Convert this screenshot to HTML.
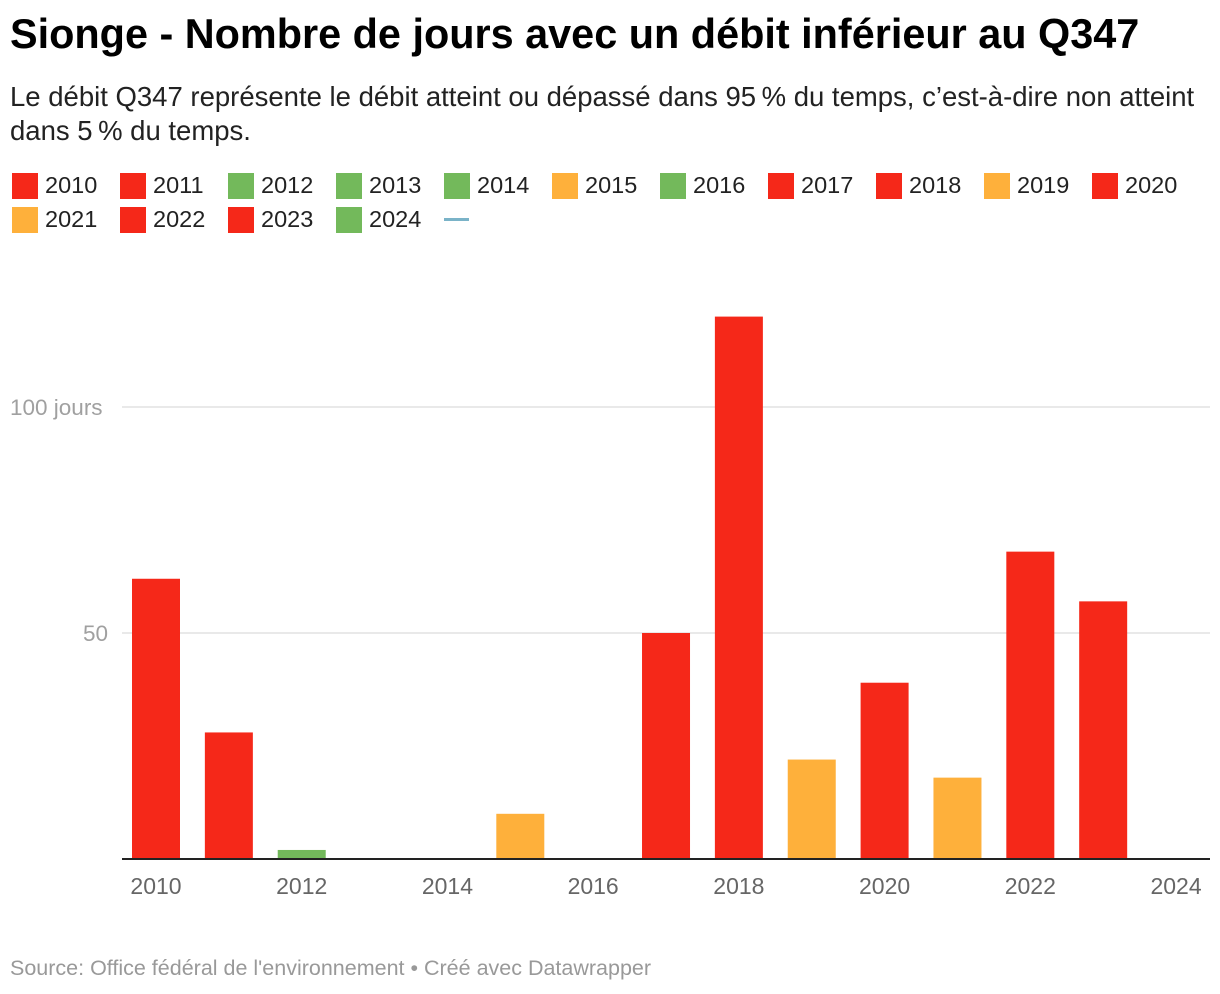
<!DOCTYPE html>
<html><head><meta charset="utf-8"><style>
body{margin:0;width:1220px;height:994px;background:#fff;font-family:"Liberation Sans",sans-serif;position:relative;overflow:hidden}
.t{position:absolute;left:10px;top:11px;font-size:41.4px;font-weight:bold;color:#000;white-space:nowrap}
.s{position:absolute;left:10px;top:80px;font-size:27.5px;line-height:34px;color:#222;width:1210px;white-space:nowrap}
.lg{position:absolute;font-size:23.5px;color:#222;display:flex;align-items:center}
.sw{width:26px;height:26px;margin-right:7px}
.src{position:absolute;left:10px;top:956px;font-size:21.5px;color:#999;white-space:nowrap}
</style></head><body>
<div class="t">Sionge - Nombre de jours avec un débit inférieur au Q347</div>
<div class="s">Le débit Q347 représente le débit atteint ou dépassé dans 95&#8239;% du temps, c’est-à-dire non atteint<br>dans 5&#8239;% du temps.</div>
<div id="legend"></div>
<svg id="c" width="1220" height="994" style="position:absolute;left:0;top:0"></svg>
<div class="src">Source: Office fédéral de l'environnement • Créé avec Datawrapper</div>
<script>
const years=[2010,2011,2012,2013,2014,2015,2016,2017,2018,2019,2020,2021,2022,2023,2024];
const days=[62,28,2,0,0,10,0,50,120,22,39,18,68,57,0];
const cats=["r","r","g","g","g","o","g","r","r","o","r","o","r","r","g"];
const yTicks=[50,100];
const xTicks=[2010,2012,2014,2016,2018,2020,2022,2024];
const col={r:"#f52819",g:"#73b95b",o:"#feb03b"};
const NS="http://www.w3.org/2000/svg";
const svg=document.getElementById('c');
const x=v=>156+(v-2010)*72.86;
const y=v=>859-v*4.52;
function mk(t,a){const e=document.createElementNS(NS,t);for(const k in a)e.setAttribute(k,a[k]);svg.appendChild(e);return e;}
yTicks.forEach(v=>{
 const g=mk('line',{x1:122,x2:1210,y1:y(v),y2:y(v),stroke:'#e2e2e2','stroke-width':1.5});
 
 
 const t=mk('text',{x:v===100?10:108,y:y(v)+8,'font-size':22.5,fill:'#a0a0a0','text-anchor':v===100?'start':'end'});
 t.textContent=v===100?'100 jours':String(v);
 
 
});
years.forEach((yr,i)=>{
 if(days[i]<=0)return;
 const r=mk('rect',{x:x(yr)-24,y:y(days[i]),width:48,height:days[i]*4.52,fill:col[cats[i]]});
 
 
});
const b=mk('line',{x1:122,x2:1210,y1:859,y2:859,stroke:'#222','stroke-width':2});


xTicks.forEach(v=>{
 const t=mk('text',{x:x(v),y:894,'font-size':23,fill:'#666','text-anchor':'middle'});
 t.textContent=v;
 
 
});
const lg=document.getElementById('legend');
years.forEach((yr,i)=>{
 const d=document.createElement('div');
 d.className='lg';
 const row=i<11?0:1, c=i<11?i:i-11;
 d.style.left=(12+c*108)+'px';d.style.top=(172+row*34)+'px';
 d.innerHTML='<div class="sw" style="background:'+col[cats[i]]+'"></div>'+yr;
 
 
 lg.appendChild(d);
});
const ln=document.createElement('div');
ln.style.cssText='position:absolute;left:444px;top:218px;width:25px;height:3px;background:#7ab3c8';


lg.appendChild(ln);
</script>
</body></html>
